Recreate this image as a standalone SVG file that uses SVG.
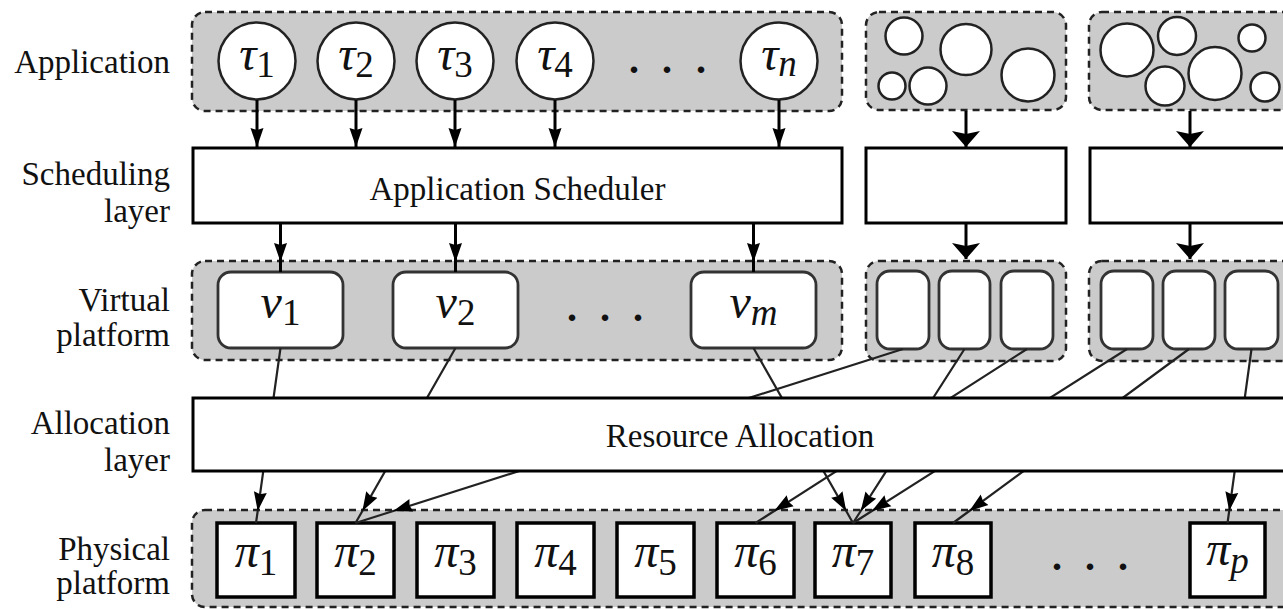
<svg xmlns="http://www.w3.org/2000/svg" width="1283" height="609" viewBox="0 0 1283 609">
  <defs>
    <style>
      .grp { fill: #cbcbcb; stroke: #222; stroke-width: 2.5; stroke-dasharray: 7 5; }
      .task { fill: #fff; stroke: #222; stroke-width: 2.5; }
      .box { fill: #fff; stroke: #000; stroke-width: 3; }
      .vp { fill: #fff; stroke: #333; stroke-width: 2.8; }
      .pe { fill: #fff; stroke: #000; stroke-width: 3.5; }
      .lbl { font-family: "Liberation Serif", "Times New Roman", serif; font-size: 33px; fill: #111; text-anchor: end; }
      .ttl { font-family: "Liberation Serif", "Times New Roman", serif; font-size: 33px; fill: #111; text-anchor: middle; }
      .m { font-family: "Liberation Serif", "Times New Roman", serif; font-style: italic; font-size: 48px; fill: #111; text-anchor: middle; }
      .s { font-size: 37px; }
      .up { font-style: normal; }
      .dots { font-family: "Liberation Serif", serif; font-size: 40px; font-weight: bold; fill: #111; text-anchor: middle; }
      .arr { stroke: #000; stroke-width: 3; fill: none; }
      .map { stroke: #222; stroke-width: 2.2; fill: none; }
    </style>
    <!-- slim arrowhead used on the task / processor links -->
    <marker id="tip" markerUnits="userSpaceOnUse" viewBox="0 0 20 14" markerWidth="20" markerHeight="14" refX="19" refY="7" orient="auto">
      <path d="M0,0.5 L19,7 L0,13.5 L2,7 Z" fill="#000"/>
    </marker>
    <!-- broad arrowhead used on the other applications -->
    <marker id="wide" markerUnits="userSpaceOnUse" viewBox="0 0 17 28" markerWidth="17" markerHeight="28" refX="16" refY="14" orient="auto">
      <path d="M0,0 L16,14 L0,28 L3,14 Z" fill="#000"/>
    </marker>
  </defs>

  <rect width="1283" height="609" fill="#fff"/>

  <!-- layer captions -->
  <g id="captions">
    <text class="lbl" x="170" y="73">Application</text>
    <text class="lbl" x="170" y="185">Scheduling</text>
    <text class="lbl" x="170" y="222">layer</text>
    <text class="lbl" x="170" y="311">Virtual</text>
    <text class="lbl" x="170" y="346">platform</text>
    <text class="lbl" x="170" y="434">Allocation</text>
    <text class="lbl" x="170" y="471">layer</text>
    <text class="lbl" x="170" y="560">Physical</text>
    <text class="lbl" x="170" y="594">platform</text>
  </g>

  <!-- application 1: task set -->
  <g id="app1">
    <rect class="grp" x="192" y="12" width="650" height="99" rx="13"/>
    <g id="tau1"><circle class="task" cx="257" cy="61" r="38.5"/>
      <text class="m" x="257" y="70">τ<tspan class="s up" dy="7">1</tspan></text></g>
    <g id="tau2"><circle class="task" cx="356" cy="61" r="38.5"/>
      <text class="m" x="356" y="70">τ<tspan class="s up" dy="7">2</tspan></text></g>
    <g id="tau3"><circle class="task" cx="455" cy="61" r="38.5"/>
      <text class="m" x="455" y="70">τ<tspan class="s up" dy="7">3</tspan></text></g>
    <g id="tau4"><circle class="task" cx="555" cy="61" r="38.5"/>
      <text class="m" x="555" y="70">τ<tspan class="s up" dy="7">4</tspan></text></g>
    <text class="dots" x="634 667 701" y="73">...</text>
    <g id="taun"><circle class="task" cx="779" cy="61" r="38.5"/>
      <text class="m" x="779" y="70">τ<tspan class="s" dy="6">n</tspan></text></g>
  </g>

  <!-- application 2 -->
  <g id="app2">
    <rect class="grp" x="866" y="12" width="200" height="98" rx="13"/>
    <circle class="task" cx="904" cy="36" r="18.5"/>
    <circle class="task" cx="966" cy="49.5" r="25.5"/>
    <circle class="task" cx="892" cy="86" r="13.5"/>
    <circle class="task" cx="928" cy="86" r="18.5"/>
    <circle class="task" cx="1028" cy="75" r="26.5"/>
  </g>

  <!-- application 3 -->
  <g id="app3">
    <rect class="grp" x="1089" y="12" width="215" height="98" rx="13"/>
    <circle class="task" cx="1127" cy="50" r="26.5"/>
    <circle class="task" cx="1177" cy="36" r="19"/>
    <circle class="task" cx="1252" cy="38" r="13.5"/>
    <circle class="task" cx="1165" cy="86" r="19.5"/>
    <circle class="task" cx="1215" cy="73.5" r="26.5"/>
    <circle class="task" cx="1265" cy="87" r="14.5"/>
  </g>

  <!-- scheduling layer -->
  <g id="sched1">
    <rect class="box" x="193" y="148" width="649" height="75"/>
    <text class="ttl" x="517.5" y="200">Application Scheduler</text>
  </g>
  <g id="sched2"><rect class="box" x="866" y="148" width="200" height="75"/></g>
  <g id="sched3"><rect class="box" x="1090" y="148" width="215" height="75"/></g>

  <!-- virtual platforms -->
  <g id="vp1">
    <rect class="grp" x="192" y="261" width="650" height="99" rx="13"/>
    <g id="nu1"><rect class="vp" x="218" y="272" width="125" height="76" rx="13"/>
      <text class="m" x="280.5" y="318">ν<tspan class="s up" dy="7">1</tspan></text></g>
    <g id="nu2"><rect class="vp" x="393" y="272" width="125" height="76" rx="13"/>
      <text class="m" x="455.5" y="318">ν<tspan class="s up" dy="7">2</tspan></text></g>
    <text class="dots" x="572 605 638" y="321">...</text>
    <g id="num"><rect class="vp" x="691" y="272" width="125" height="76" rx="13"/>
      <text class="m" x="753.5" y="318">ν<tspan class="s" dy="7">m</tspan></text></g>
  </g>
  <g id="vp2">
    <rect class="grp" x="866" y="261" width="200" height="100" rx="13"/>
    <rect class="vp" x="877" y="271" width="52" height="78" rx="13"/>
    <rect class="vp" x="939" y="271" width="51" height="78" rx="13"/>
    <rect class="vp" x="1001" y="271" width="52" height="78" rx="13"/>
  </g>
  <g id="vp3">
    <rect class="grp" x="1089" y="261" width="215" height="100" rx="13"/>
    <rect class="vp" x="1101" y="271" width="52" height="78" rx="13"/>
    <rect class="vp" x="1163" y="271" width="52" height="78" rx="13"/>
    <rect class="vp" x="1225" y="271" width="53" height="78" rx="13"/>
  </g>

  <!-- physical platform -->
  <g id="pp">
    <rect class="grp" x="192" y="510" width="1110" height="97" rx="13"/>
    <g id="pi1"><rect class="pe" x="217" y="523" width="78" height="74"/>
      <text class="m" x="256" y="567">π<tspan class="s up" dy="8">1</tspan></text></g>
    <g id="pi2"><rect class="pe" x="317" y="523" width="77" height="74"/>
      <text class="m" x="355.5" y="567">π<tspan class="s up" dy="8">2</tspan></text></g>
    <g id="pi3"><rect class="pe" x="417" y="523" width="77" height="74"/>
      <text class="m" x="455.5" y="567">π<tspan class="s up" dy="8">3</tspan></text></g>
    <g id="pi4"><rect class="pe" x="517" y="523" width="77" height="74"/>
      <text class="m" x="555.5" y="567">π<tspan class="s up" dy="8">4</tspan></text></g>
    <g id="pi5"><rect class="pe" x="617" y="523" width="77" height="74"/>
      <text class="m" x="655.5" y="567">π<tspan class="s up" dy="8">5</tspan></text></g>
    <g id="pi6"><rect class="pe" x="717" y="523" width="77" height="74"/>
      <text class="m" x="755.5" y="567">π<tspan class="s up" dy="8">6</tspan></text></g>
    <g id="pi7"><rect class="pe" x="815" y="523" width="76" height="74"/>
      <text class="m" x="853" y="567">π<tspan class="s up" dy="8">7</tspan></text></g>
    <g id="pi8"><rect class="pe" x="915" y="523" width="76" height="74"/>
      <text class="m" x="953" y="567">π<tspan class="s up" dy="8">8</tspan></text></g>
    <text class="dots" x="1057 1090 1123" y="570">...</text>
    <g id="pip"><rect class="pe" x="1190" y="523" width="75" height="74"/>
      <text class="m" x="1227.5" y="565">π<tspan class="s" dy="8">p</tspan></text></g>
  </g>

  <!-- connectors -->
  <g id="connectors">
    <!-- tasks to schedulers -->
    <path class="arr" d="M257,100 L257,147" marker-end="url(#tip)"/>
    <path class="arr" d="M356,100 L356,147" marker-end="url(#tip)"/>
    <path class="arr" d="M455,100 L455,147" marker-end="url(#tip)"/>
    <path class="arr" d="M555,100 L555,147" marker-end="url(#tip)"/>
    <path class="arr" d="M779,100 L779,147" marker-end="url(#tip)"/>
    <path class="arr" d="M966,111 L966,147" marker-end="url(#wide)"/>
    <path class="arr" d="M1190,111 L1190,147" marker-end="url(#wide)"/>
    <!-- schedulers to virtual processors -->
    <path class="arr" d="M280.5,224 L280.5,262 L280.5,272" marker-mid="url(#tip)"/>
    <path class="arr" d="M455.5,224 L455.5,262 L455.5,272" marker-mid="url(#tip)"/>
    <path class="arr" d="M753.5,224 L753.5,262 L753.5,272" marker-mid="url(#tip)"/>
    <path class="arr" d="M966,224 L966,259" marker-end="url(#wide)"/>
    <path class="arr" d="M1190,224 L1190,259" marker-end="url(#wide)"/>
    <!-- virtual processors to physical processors -->
    <path class="map" d="M280.5,348 L257.7,511 L256,523" marker-mid="url(#tip)"/>
    <path class="map" d="M455.5,348 L362.4,511 L355.5,523" marker-mid="url(#tip)"/>
    <path class="map" d="M753.5,348 L846.2,511 L853,523" marker-mid="url(#tip)"/>
    <path class="map" d="M903,349 L393.3,511 L355.5,523" marker-mid="url(#tip)"/>
    <path class="map" d="M964.5,349 L860.7,511 L853,523" marker-mid="url(#tip)"/>
    <path class="map" d="M1027,349 L774.2,511 L755.5,523" marker-mid="url(#tip)"/>
    <path class="map" d="M1127,349 L871.9,511 L853,523" marker-mid="url(#tip)"/>
    <path class="map" d="M1189,349 L969.3,511 L953,523" marker-mid="url(#tip)"/>
    <path class="map" d="M1251.5,349 L1229.2,511 L1227.5,523" marker-mid="url(#tip)"/>
  </g>

  <!-- allocation layer, drawn over the mapping lines -->
  <g id="alloc">
    <rect class="box" x="193" y="398" width="1094" height="73"/>
    <text class="ttl" x="740" y="447">Resource Allocation</text>
  </g>
</svg>
